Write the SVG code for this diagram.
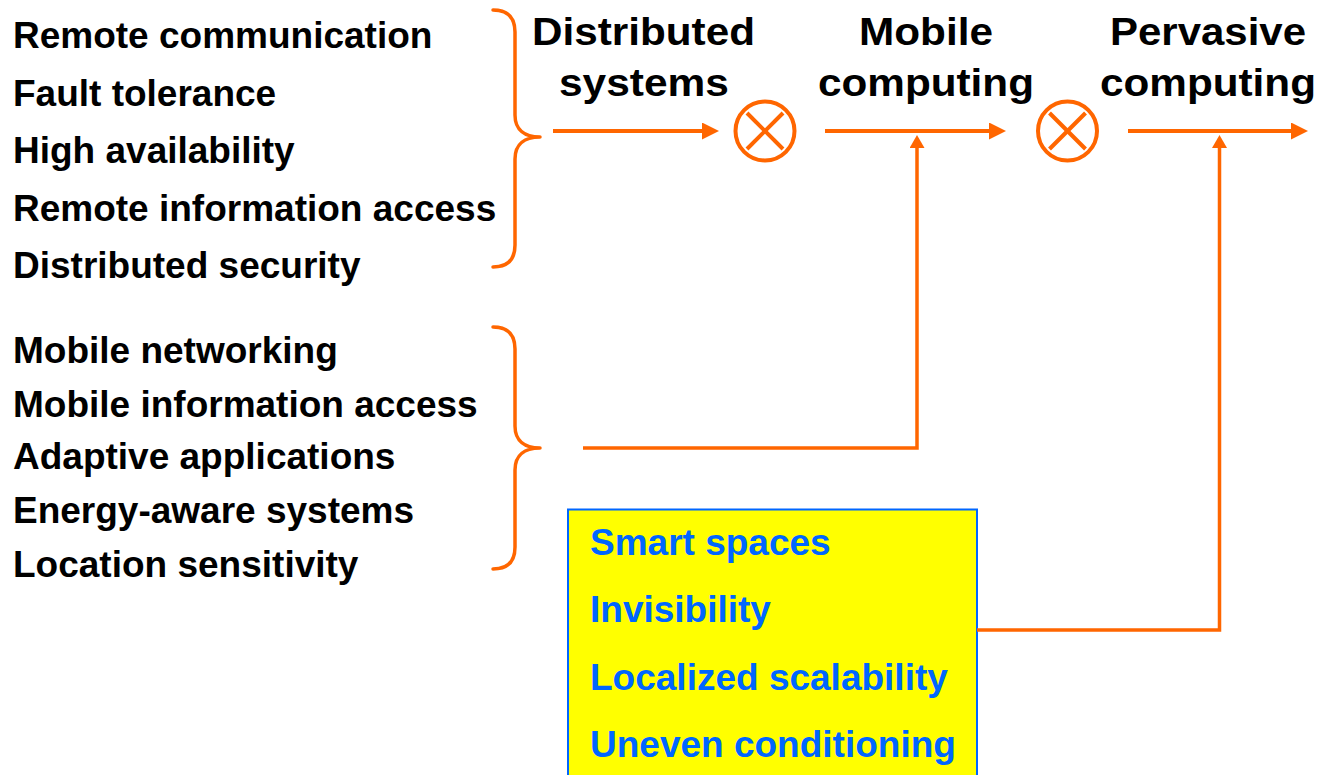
<svg xmlns="http://www.w3.org/2000/svg" width="1321" height="775" viewBox="0 0 1321 775">
  <defs>
    <style>
      .lbl { font-family: "Liberation Sans", Arial, sans-serif; font-weight: bold; font-size: 37px; fill: #000; }
      .hdr { font-family: "Liberation Sans", Arial, sans-serif; font-weight: bold; font-size: 39px; fill: #000; text-anchor: middle; }
      .blue { font-family: "Liberation Sans", Arial, sans-serif; font-weight: bold; font-size: 37px; fill: #0066FF; }
      .brace { fill: none; stroke: #FF6600; stroke-width: 3.5; stroke-linecap: round; stroke-linejoin: round; }
      .main { fill: none; stroke: #FF6600; stroke-width: 4; }
      .feed { fill: none; stroke: #FF6600; stroke-width: 3.5; }
      .op { fill: #fff; stroke: #FF6600; stroke-width: 4; }
      .opx { stroke: #FF6600; stroke-width: 4; }
    </style>
    <marker id="headMain" viewBox="0 0 17 17" refX="1" refY="8.5" markerWidth="17" markerHeight="17" markerUnits="userSpaceOnUse" orient="auto">
      <path d="M0,0 L17,8.5 L0,17 z" fill="#FF6600"/>
    </marker>
    <marker id="headFeed" viewBox="0 0 13 15" refX="1" refY="7.5" markerWidth="13" markerHeight="15" markerUnits="userSpaceOnUse" orient="auto">
      <path d="M0,0 L13,7.5 L0,15 z" fill="#FF6600"/>
    </marker>
  </defs>

  <rect width="1321" height="775" fill="#fff"/>

  <!-- distributed systems issues -->
  <g id="distributed-issues">
    <text class="lbl" x="13" y="48">Remote communication</text>
    <text class="lbl" x="13" y="105.5">Fault tolerance</text>
    <text class="lbl" x="13" y="163">High availability</text>
    <text class="lbl" x="13" y="220.5">Remote information access</text>
    <text class="lbl" x="13" y="278">Distributed security</text>
    <path class="brace" d="M493,10 C508,10 515,18 515,32 L515,115 C515,130 525,137 540,137 C525,137 515,144 515,159 L515,245 C515,259 508,267 493,267"/>
  </g>

  <!-- mobile computing issues -->
  <g id="mobile-issues">
    <text class="lbl" x="13" y="363">Mobile networking</text>
    <text class="lbl" x="13" y="417">Mobile information access</text>
    <text class="lbl" x="13" y="469">Adaptive applications</text>
    <text class="lbl" x="13" y="523">Energy-aware systems</text>
    <text class="lbl" x="13" y="577">Location sensitivity</text>
    <path class="brace" d="M493,327 C508,327 515,335 515,349 L515,426 C515,441 525,448 540,448 C525,448 515,455 515,470 L515,547 C515,561 508,569 493,569"/>
  </g>

  <!-- stage headings -->
  <g id="distributed-systems">
    <text class="hdr" x="643.5" y="44.5" textLength="223" lengthAdjust="spacingAndGlyphs">Distributed</text>
    <text class="hdr" x="644" y="96" textLength="170" lengthAdjust="spacingAndGlyphs">systems</text>
  </g>
  <g id="mobile-computing">
    <text class="hdr" x="926" y="45" textLength="134" lengthAdjust="spacingAndGlyphs">Mobile</text>
    <text class="hdr" x="926" y="96" textLength="216" lengthAdjust="spacingAndGlyphs">computing</text>
  </g>
  <g id="pervasive-computing">
    <text class="hdr" x="1208" y="45" textLength="196" lengthAdjust="spacingAndGlyphs">Pervasive</text>
    <text class="hdr" x="1208" y="96" textLength="216" lengthAdjust="spacingAndGlyphs">computing</text>
  </g>

  <!-- combining operators -->
  <g id="op-1">
    <circle class="op" cx="765" cy="131" r="29.5"/>
    <line class="opx" x1="747" y1="113" x2="783" y2="149"/>
    <line class="opx" x1="783" y1="113" x2="747" y2="149"/>
  </g>
  <g id="op-2">
    <circle class="op" cx="1067.5" cy="131" r="29.5"/>
    <line class="opx" x1="1049.5" y1="113" x2="1085.5" y2="149"/>
    <line class="opx" x1="1085.5" y1="113" x2="1049.5" y2="149"/>
  </g>

  <!-- pervasive computing issues -->
  <g id="pervasive-issues">
    <rect x="568" y="509.5" width="409" height="280" fill="#FFFF00" stroke="#0066FF" stroke-width="2"/>
    <text class="blue" x="590" y="555">Smart spaces</text>
    <text class="blue" x="590" y="622">Invisibility</text>
    <text class="blue" x="590" y="690">Localized scalability</text>
    <text class="blue" x="590" y="757">Uneven conditioning</text>
  </g>

  <!-- connectors -->
  <g id="connectors">
    <line class="main" x1="553" y1="131" x2="703" y2="131" marker-end="url(#headMain)"/>
    <line class="main" x1="825" y1="131" x2="990" y2="131" marker-end="url(#headMain)"/>
    <line class="main" x1="1128" y1="131" x2="1292" y2="131" marker-end="url(#headMain)"/>
    <polyline class="feed" points="583,448 917,448 917,147" marker-end="url(#headFeed)"/>
    <polyline class="feed" points="977,630 1219.5,630 1219.5,147" marker-end="url(#headFeed)"/>
  </g>
</svg>
